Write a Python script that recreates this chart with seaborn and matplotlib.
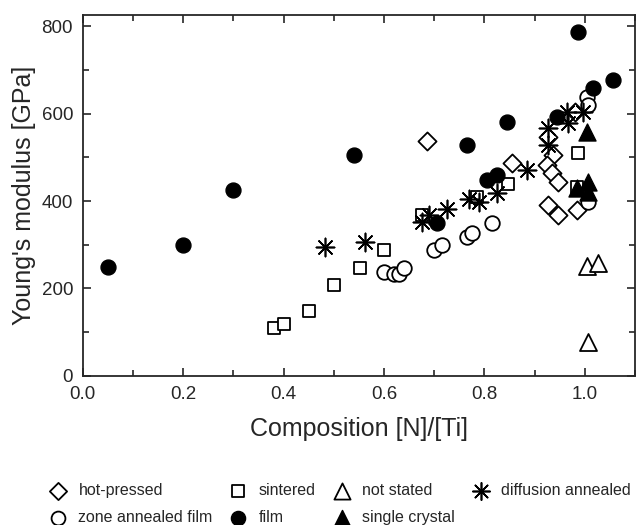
import matplotlib
matplotlib.use("Agg")
import matplotlib.pyplot as plt
import seaborn as sns
import pandas as pd
from matplotlib.ticker import MultipleLocator

# ---- data ----
hot_x = [0.685, 0.855, 0.926, 0.937, 0.924, 0.934, 0.946, 0.98, 0.926, 0.946, 0.984]
hot_y = [537, 487, 546, 505, 482, 463, 444, 603, 391, 368, 379]

zone_x = [0.60, 0.62, 0.63, 0.64, 0.70, 0.715, 0.765, 0.775, 0.815, 1.006, 1.004, 1.006]
zone_y = [238, 233, 233, 246, 288, 300, 318, 327, 350, 398, 638, 619]

sint_x = [0.38, 0.40, 0.45, 0.50, 0.552, 0.60, 0.675, 0.785, 0.848, 0.986, 0.984]
sint_y = [110, 119, 149, 208, 247, 288, 368, 410, 440, 509, 432]

film_x = [0.05, 0.2, 0.3, 0.54, 0.765, 0.705, 0.805, 0.825, 0.845, 0.944, 0.986, 1.016, 1.056]
film_y = [250, 300, 425, 505, 528, 350, 448, 459, 581, 592, 787, 658, 677]

nots_x = [1.004, 1.026, 1.006]
nots_y = [251, 258, 78]

single_x = [1.004, 0.984, 1.006, 1.006]
single_y = [558, 430, 444, 421]

diff_x = [0.482, 0.562, 0.675, 0.69, 0.725, 0.77, 0.79, 0.825, 0.885, 0.926, 0.926, 0.964, 0.966, 0.996]
diff_y = [295, 306, 352, 368, 381, 404, 398, 419, 471, 566, 528, 603, 578, 603]

x_ticks = [0.0, 0.2, 0.4, 0.6, 0.8, 1.0]
y_ticks = [0, 200, 400, 600, 800]

sns.set_style("ticks")
plt.rcParams['font.family'] = ['Liberation Sans', 'DejaVu Sans']

fig = plt.figure(figsize=(6.42, 5.25), dpi=100)
ax = fig.add_axes([0.129, 0.284, 0.860, 0.687])

groups = [
    ("hot-pressed", hot_x, hot_y, "D", "white", 85, 1.3),
    ("zone annealed film", zone_x, zone_y, "o", "white", 110, 1.3),
    ("sintered", sint_x, sint_y, "s", "white", 80, 1.3),
    ("film", film_x, film_y, "o", "black", 115, 1.0),
    ("not stated", nots_x, nots_y, "^", "white", 150, 1.3),
    ("single crystal", single_x, single_y, "^", "black", 150, 1.0),
]
for name, xs, ys, mk, fc, s, lw in groups:
    df = pd.DataFrame({"x": xs, "y": ys})
    sns.scatterplot(data=df, x="x", y="y", marker=mk, s=s, facecolor=fc,
                    edgecolor="black", linewidth=lw, ax=ax, label=name, zorder=3)
df = pd.DataFrame({"x": diff_x, "y": diff_y})
sns.scatterplot(data=df, x="x", y="y", marker=(8, 2, 0), s=170, color="black",
                linewidth=1.2, ax=ax, label="diffusion annealed", zorder=3)

ax.set_xlim(0, 1.1)
ax.set_ylim(0, 825)
ax.set_xticks(x_ticks)
ax.set_yticks(y_ticks)
ax.set_xticklabels([f"{v:.1f}" for v in x_ticks])
ax.xaxis.set_minor_locator(MultipleLocator(0.1))
ax.yaxis.set_minor_locator(MultipleLocator(100))
ax.tick_params(which="both", direction="in", top=True, right=True, labelsize=13.5, width=1.2)
ax.tick_params(which="major", length=6, pad=7)
ax.tick_params(which="minor", length=4)
for sp in ax.spines.values():
    sp.set_linewidth(1.3)
ax.set_xlabel("Composition [N]/[Ti]", fontsize=18, labelpad=10)
ax.set_ylabel("Young's modulus [GPa]", fontsize=18, labelpad=4)

ax.get_legend().remove()
handles, labels = ax.get_legend_handles_labels()
fig.legend(handles, labels, loc="upper left", bbox_to_anchor=(0.075, 0.08), ncol=4,
           frameon=False, fontsize=11.5, handletextpad=0.7, columnspacing=1.0,
           labelspacing=0.75, handlelength=1.2, markerscale=0.95, borderpad=0,
           borderaxespad=0)

fig.savefig("out.png", dpi=100)
